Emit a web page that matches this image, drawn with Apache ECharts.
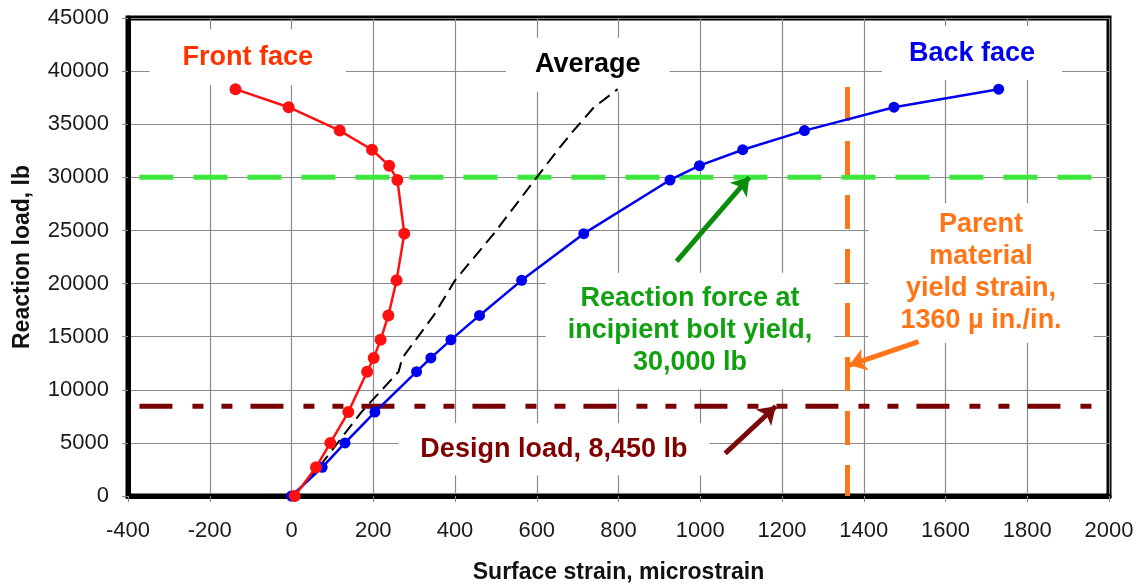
<!DOCTYPE html>
<html>
<head>
<meta charset="utf-8">
<script src="https://cdn.jsdelivr.net/npm/echarts@6/dist/echarts.min.js"></script>
<style>
  html, body { margin: 0; padding: 0; background: #fff; }
  #chart { width: 1141px; height: 586px; }
</style>
</head>
<body>
<div id="chart"></div>
<script>
  // load levels (lb) shared by every gauge reading
  const loads = [0, 2700, 5000, 7900, 11700, 13000, 14700, 17000, 20300, 24700, 29750, 31100, 32600, 34400, 36600, 38300];
  const frontStrain = [8, 60, 95, 139, 185, 201, 218, 237, 257, 276, 259, 239, 197, 118, -7, -137];
  const backStrain = [0, 75, 131, 204, 306, 341, 390, 460, 563, 715, 926, 998, 1104, 1255, 1474, 1730];
  const avgStrain = [4, 67, 113, 171, 262, 271, 304, 348, 400, 495, 595, 622, 652, 690, 740, 798];

  const xTicks = [-400, 2000, 200];
  const yTicks = [0, 45000, 5000];

  const boltYield = 30000;
  const designLoad = 8450;
  const yieldStrain = 1360;

  const pair = (xs) => xs.map((x, i) => [x, loads[i]]);

  const font = 'Liberation Sans, Arial, sans-serif';

  // text boxes sit under the plotted lines, only the grid is hidden by them
  function note(x, y, text, color, pad) {
    return {
      type: 'scatter', symbolSize: 0, silent: true, z: 1,
      itemStyle: { color: '#fff', opacity: 1 },
      data: [[x, y]],
      label: {
        show: true, position: [0, 0], formatter: text,
        color: color, fontFamily: font, fontWeight: 'bold', fontSize: 27,
        lineHeight: 32, align: 'center', verticalAlign: 'middle',
        textBorderWidth: 0, opacity: 1,
        backgroundColor: '#fff', padding: pad
      }
    };
  }

  function arrow(from, to, color) {
    return {
      type: 'lines', coordinateSystem: 'cartesian2d', silent: true, z: 12,
      symbol: ['none', 'arrow'], symbolSize: 17,
      lineStyle: { color: color, width: 5, opacity: 1 },
      data: [{ coords: [from, to] }]
    };
  }

  var chartDom = document.getElementById('chart');
  var myChart = echarts.init(chartDom);
  var option;

  option = {
    backgroundColor: '#fff',
    animation: false,
    grid: {
      left: 128, right: 32, top: 18, bottom: 90,
      containLabel: false, outerBoundsMode: 'none',
      show: true, borderColor: '#000', borderWidth: 5
    },
    xAxis: {
      type: 'value', min: xTicks[0], max: xTicks[1], interval: xTicks[2],
      name: 'Surface strain, microstrain', nameLocation: 'middle', nameGap: 65,
      nameTextStyle: { fontFamily: font, fontWeight: 'bold', fontSize: 23, color: '#111' },
      axisLine: { onZero: false, lineStyle: { color: '#000', width: 5 } },
      axisTick: { show: true, length: 6, lineStyle: { color: '#888' } },
      axisLabel: { fontFamily: font, fontSize: 22, color: '#1a1a1a', margin: 24, formatter: (v) => String(v) },
      splitLine: { lineStyle: { color: '#8a8a8a', width: 1.2 } }
    },
    yAxis: {
      type: 'value', min: yTicks[0], max: yTicks[1], interval: yTicks[2],
      name: 'Reaction load, lb', nameLocation: 'middle', nameGap: 94,
      nameTextStyle: { fontFamily: font, fontWeight: 'bold', fontSize: 23, color: '#111' },
      axisLine: { show: true, onZero: false, lineStyle: { color: '#000', width: 5 } },
      axisTick: { show: true, length: 6, lineStyle: { color: '#888' } },
      axisLabel: { fontFamily: font, fontSize: 22, color: '#1a1a1a', margin: 19, formatter: (v) => String(v) },
      splitLine: { lineStyle: { color: '#8a8a8a', width: 1.2 } }
    },
    series: [
      {
        name: 'Design load', type: 'line', symbol: 'none', silent: true, z: 3,
        lineStyle: { color: '#7a0000', width: 5, type: [33, 20, 11, 18, 11, 18] },
        data: [[-372, designLoad], [2000, designLoad]]
      },
      {
        name: 'Bolt yield', type: 'line', symbol: 'none', silent: true, z: 3,
        lineStyle: { color: '#3be83b', width: 5, type: [34, 20] },
        data: [[-372, boltYield], [1985, boltYield]]
      },
      {
        name: 'Average', type: 'line', symbol: 'none', z: 4,
        lineStyle: { color: '#000', width: 2, type: [13, 7] },
        data: pair(avgStrain)
      },
      {
        name: 'Back face', type: 'line', symbol: 'circle', symbolSize: 11, z: 5,
        itemStyle: { color: '#0000ee' },
        lineStyle: { color: '#0000ee', width: 2.5 },
        data: pair(backStrain),
        markLine: {
          silent: true, symbol: 'none', animation: false,
          label: { show: false },
          lineStyle: { color: '#ff7518', width: 5, type: [34, 20] },
          data: [[{ coord: [yieldStrain, 38500] }, { coord: [yieldStrain, 0] }]]
        }
      },
      {
        name: 'Front face', type: 'line', symbol: 'circle', symbolSize: 12, z: 5,
        itemStyle: { color: '#ff1010' },
        lineStyle: { color: '#ff1010', width: 2.5 },
        data: pair(frontStrain)
      },
      arrow([942, 22080], [1120, 30000], '#0b8c0b'),
      arrow([1061, 4020], [1185, 8450], '#7a0a0a'),
      arrow([1534, 14540], [1364, 12300], '#ff7518'),
      note(-107, 41300, 'Front face', '#ff3300', [12, 33]),
      note(725, 40600, 'Average', '#000', [11, 29]),
      note(1665, 41700, 'Back face', '#0000ee', [11, 27]),
      note(975, 15550, 'Reaction force at\nincipient bolt yield,\n30,000 lb', '#10a010', [10, 22]),
      note(642, 4400, 'Design load, 8,450 lb', '#800000', [10, 22]),
      note(1687, 21000, 'Parent\nmaterial\nyield strain,\n1360 µ in./in.', '#ff7518', [6, 32])
    ]
  };

  option && myChart.setOption(option);
</script>
</body>
</html>
